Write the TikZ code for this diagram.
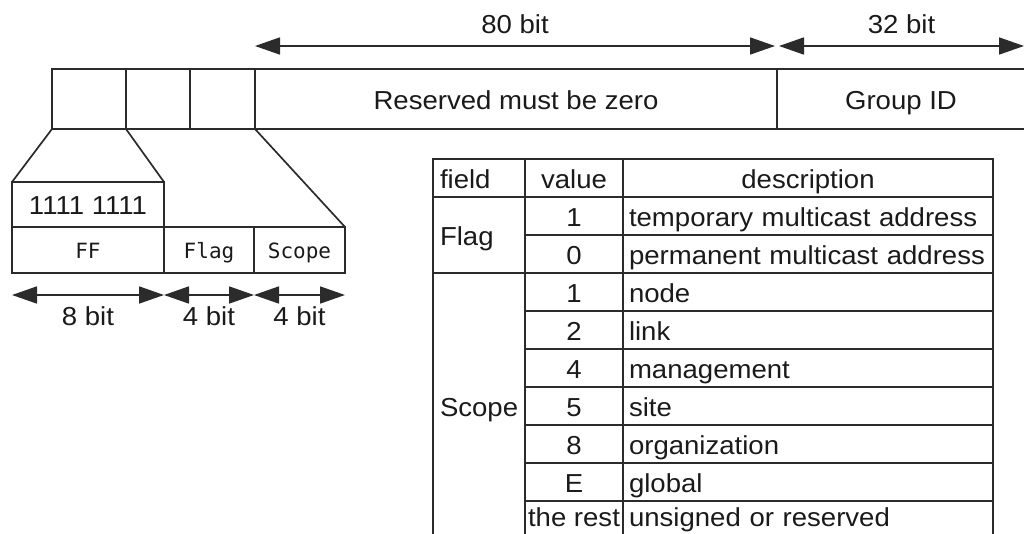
\documentclass[tikz,border=0pt]{standalone}
\usepackage{fontspec}
\setmainfont{Liberation Sans}[FakeStretch=1.06]
\newfontfamily\monocell{DejaVu Sans Mono}
\usetikzlibrary{arrows.meta}
\definecolor{LineGray}{HTML}{2B2B2B}
\definecolor{InkBlack}{HTML}{1A1A1A}

\begin{document}
\begin{tikzpicture}[x=1pt,y=-1pt,line width=1.7pt,draw=LineGray,text=InkBlack,
  font=\fontsize{26}{30}\selectfont,
  every node/.style={inner sep=0pt,outer sep=0pt},
  bar/.style={draw,anchor=north west,minimum height=60pt,text height=20pt,text depth=0pt},
  bitcell/.style={draw,anchor=north west,minimum height=46pt,text height=20pt,text depth=0pt},
  mono/.style={font=\monocell\fontsize{21}{25}\selectfont,text height=16pt},
  cell/.style={draw,anchor=north west,minimum height=38pt,text height=20pt,text depth=0pt},
  fld/.style={cell,minimum width=92pt,text width=78pt,inner xsep=7pt,align=left},
  val/.style={cell,minimum width=98pt},
  dsc/.style={cell,minimum width=370pt,text width=358pt,inner xsep=6pt,align=left},
  lastrow/.style={text height=12pt},
  span/.style={{Triangle[length=25pt,width=17pt]}-{Triangle[length=25pt,width=17pt]}}]
  \useasboundingbox (0,0) rectangle (1024,533);

  \node[bar,minimum width=74pt] (hi1) at (52,69) {};
  \node[bar,minimum width=64pt] (hi2) at (126,69) {};
  \node[bar,minimum width=65pt] (hi3) at (190,69) {};
  \node[bar,minimum width=522pt] (rsv) at (255,69) {Reserved must be zero};
  \node[bar,minimum width=248pt] (gid) at (777,69) {Group ID};

  \coordinate (w80a) at (255,46);
  \coordinate (w80b) at (775,46);
  \coordinate (w32a) at (779,46);
  \coordinate (w32b) at (1024,46);
  \draw[span] (w80a) -- node[anchor=base,yshift=13pt] {80 bit} (w80b);
  \draw[span] (w32a) -- node[anchor=base,yshift=13pt] {32 bit} (w32b);

  \node[bitcell,minimum width=152pt,minimum height=45pt] (ones) at (12,182) {1111 1111};
  \node[bitcell,mono,minimum width=152pt] (ffc) at (12,227) {FF};
  \node[bitcell,mono,minimum width=90pt] (flc) at (164,227) {Flag};
  \node[bitcell,mono,minimum width=91pt] (scc) at (254,227) {Scope};
  \draw (hi1.south west) -- (ones.north west);
  \draw (hi1.south east) -- (ones.north east);
  \draw (hi3.south east) -- (scc.north east);

  \coordinate (b0) at (12,295);
  \coordinate (b1) at (164,295);
  \coordinate (b2) at (254,295);
  \coordinate (b3) at (345,295);
  \draw[span] (b0) -- node[anchor=base,yshift=-30pt] {8 bit} (b1);
  \draw[span] (b1) -- node[anchor=base,yshift=-30pt] {4 bit} (b2);
  \draw[span] (b2) -- node[anchor=base,yshift=-30pt] {4 bit} (b3);

  \node[fld] (hfield) at (433,159) {field};
  \node[val] (hvalue) at (525,159) {value};
  \node[cell,minimum width=370pt] (hdesc) at (623,159) {description};
  \node[fld,minimum height=76pt] (flag) at (433,197) {Flag};
  \node[fld,minimum height=266pt] (scope) at (433,273) {Scope};
  \node[val] (v1) at (525,197) {1};
  \node[dsc] (d1) at (623,197) {temporary multicast address};
  \node[val] (v0) at (525,235) {0};
  \node[dsc] (d0) at (623,235) {permanent multicast address};
  \node[val] (s1) at (525,273) {1};
  \node[dsc] (e1) at (623,273) {node};
  \node[val] (s2) at (525,311) {2};
  \node[dsc] (e2) at (623,311) {link};
  \node[val] (s4) at (525,349) {4};
  \node[dsc] (e4) at (623,349) {management};
  \node[val] (s5) at (525,387) {5};
  \node[dsc] (e5) at (623,387) {site};
  \node[val] (s8) at (525,425) {8};
  \node[dsc] (e8) at (623,425) {organization};
  \node[val] (sE) at (525,463) {E};
  \node[dsc] (eE) at (623,463) {global};
  \node[val,lastrow] (sR) at (525,501) {the rest};
  \node[dsc,lastrow] (eR) at (623,501) {unsigned or reserved};
\end{tikzpicture}
\end{document}
